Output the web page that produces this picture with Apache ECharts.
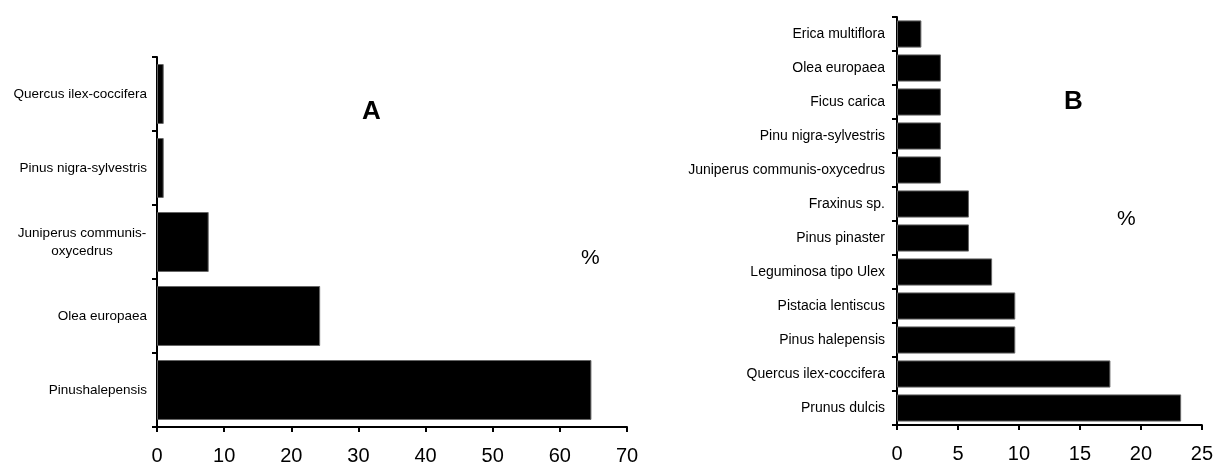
<!DOCTYPE html>
<html>
<head>
<meta charset="utf-8">
<script src="https://cdn.jsdelivr.net/npm/echarts@6/dist/echarts.min.js"></script>
<style>
  html, body { margin: 0; padding: 0; background: #fff; }
  #main { width: 1216px; height: 466px; }
</style>
</head>
<body>
<div id="main"></div>
<script>
// panel A (top to bottom)
var catsA = ['Quercus ilex-coccifera', 'Pinus nigra-sylvestris', 'Juniperus communis-\noxycedrus', 'Olea europaea', 'Pinushalepensis'];
var valsA = [1.0, 1.0, 7.7, 24.3, 64.7];
var ticksA = [0, 10, 20, 30, 40, 50, 60, 70];

// panel B (top to bottom)
var catsB = ['Erica multiflora', 'Olea europaea', 'Ficus carica', 'Pinu nigra-sylvestris',
  'Juniperus communis-oxycedrus', 'Fraxinus sp.', 'Pinus pinaster', 'Leguminosa tipo Ulex',
  'Pistacia lentiscus', 'Pinus halepensis', 'Quercus ilex-coccifera', 'Prunus dulcis'];
var valsB = [2.0, 3.6, 3.6, 3.6, 3.6, 5.9, 5.9, 7.8, 9.7, 9.7, 17.5, 23.3];
var ticksB = [0, 5, 10, 15, 20, 25];

var font = 'Liberation Sans, Arial, sans-serif';
var myChart = echarts.init(document.getElementById('main'));

function xAxisFor(idx, ticks) {
  return {
    type: 'value', gridIndex: idx,
    min: ticks[0], max: ticks[ticks.length - 1], interval: ticks[1] - ticks[0],
    splitLine: { show: false },
    axisLine: { show: true, lineStyle: { color: '#000', width: 2 } },
    axisTick: { show: true, length: 5, lineStyle: { color: '#000', width: 2 } },
    axisLabel: { color: '#000', fontSize: 20, fontFamily: font, margin: 19 }
  };
}

function yAxisFor(idx, cats, size, margin) {
  return {
    type: 'category', gridIndex: idx, data: cats, inverse: true,
    axisLine: { show: true, lineStyle: { color: '#000', width: 2 } },
    axisTick: { show: true, length: 5, lineStyle: { color: '#000', width: 2 } },
    axisLabel: {
      color: '#000', fontSize: size, fontFamily: font, margin: margin,
      lineHeight: 18,
      formatter: function (v) {
        if (v.indexOf('\n') < 0) return v;
        return v.split('\n').map(function (s) { return '{c|' + s + '}'; }).join('\n');
      },
      rich: { c: { width: 130, align: 'center', fontSize: size, fontFamily: font, color: '#000', lineHeight: 18 } }
    }
  };
}

var option = {
  animation: false,
  grid: [
    { left: 157, right: 589, top: 57, bottom: 39 },
    { left: 897, right: 13, top: 17, bottom: 41 }
  ],
  xAxis: [xAxisFor(0, ticksA), xAxisFor(1, ticksB)],
  yAxis: [yAxisFor(0, catsA, 13.5, 10), yAxisFor(1, catsB, 14, 12)],
  series: [
    {
      type: 'bar', xAxisIndex: 0, yAxisIndex: 0, data: valsA,
      barCategoryGap: '19%',
      itemStyle: { color: '#000', borderColor: '#666', borderWidth: 1 }
    },
    {
      type: 'bar', xAxisIndex: 1, yAxisIndex: 1, data: valsB,
      barCategoryGap: '20%',
      itemStyle: { color: '#000', borderColor: '#666', borderWidth: 1 }
    }
  ],
  graphic: [
    { type: 'text', left: 362, top: 99, style: { text: 'A', font: 'bold 26px ' + font, fill: '#000' } },
    { type: 'text', left: 581, top: 248, style: { text: '%', font: '21px ' + font, fill: '#000' } },
    { type: 'text', left: 1064, top: 89, style: { text: 'B', font: 'bold 26px ' + font, fill: '#000' } },
    { type: 'text', left: 1117, top: 209, style: { text: '%', font: '21px ' + font, fill: '#000' } }
  ]
};
myChart.setOption(option);
</script>
</body>
</html>
